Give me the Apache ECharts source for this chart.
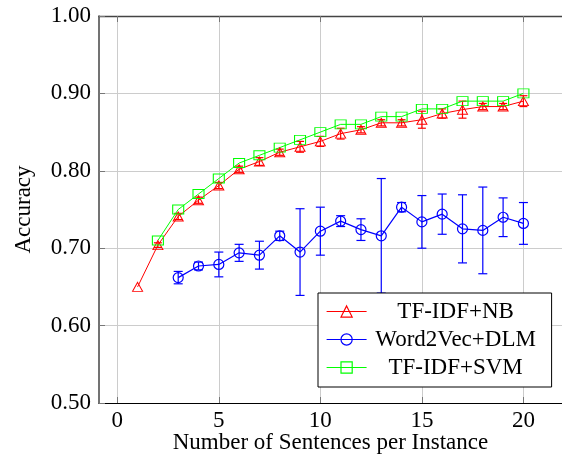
<!DOCTYPE html>
<html>
<head>
<meta charset="utf-8">
<script src="https://cdn.jsdelivr.net/npm/echarts@6/dist/echarts.min.js"></script>
<style>
html,body{margin:0;padding:0;background:#fff;}
#chart{width:562px;height:466px;}
</style>
</head>
<body>
<div id="chart"></div>
<script>
// ---- data ----
const nbX = [1,2,3,4,5,6,7,8,9,10,11,12,13,14,15,16,17,18,19,20];
const nbY = [0.650,0.704,0.741,0.762,0.781,0.802,0.812,0.824,0.831,0.838,0.848,0.853,0.862,0.862,0.866,0.874,0.879,0.883,0.883,0.890];
const nbErr = [0,0.003,0.004,0.004,0.004,0.004,0.005,0.004,0.007,0.0065,0.007,0.004,0.004,0.004,0.011,0.006,0.011,0.004,0.004,0.007];

const w2vX = [3,4,5,6,7,8,9,10,11,12,13,14,15,16,17,18,19,20];
const w2vY = [0.662,0.677,0.679,0.694,0.691,0.716,0.695,0.722,0.735,0.724,0.716,0.753,0.734,0.744,0.725,0.723,0.740,0.732];
const w2vErr = [0.008,0.005,0.016,0.011,0.018,0.006,0.056,0.031,0.007,0.014,0.074,0.006,0.034,0.026,0.044,0.056,0.025,0.027];

const svmX = [2,3,4,5,6,7,8,9,10,11,12,13,14,15,16,17,18,19,20];
const svmY = [0.71,0.75,0.77,0.79,0.81,0.82,0.83,0.84,0.85,0.86,0.86,0.87,0.87,0.88,0.88,0.89,0.89,0.89,0.90];

const xTicks = [0,5,10,15,20];
const seriesNames = ['TF-IDF+NB','Word2Vec+DLM','TF-IDF+SVM'];
const xAxisTitle = 'Number of Sentences per Instance';
const yAxisTitle = 'Accuracy';

const FONT = "'Liberation Serif','Times New Roman',serif";
const RED = '#ff0000', BLUE = '#0000ff', GREEN = '#00ff00';

function pairs(xs, ys){ return xs.map((x,i)=>[x, ys[i]]); }
function errData(xs, ys, es){ return xs.map((x,i)=>[x, ys[i], es[i]]); }

function errSeries(xs, ys, es, color, cap){
  return {
    type:'custom',
    silent:true,
    z:1,
    data: errData(xs, ys, es),
    encode:{x:0,y:1},
    renderItem: function(params, api){
      const x = api.value(0), y = api.value(1), e = api.value(2);
      if (!e) return null;
      const top = api.coord([x, y+e]);
      const bot = api.coord([x, y-e]);
      const st = {stroke: color, lineWidth: 1.2, fill: null};
      return {type:'group', children:[
        {type:'line', shape:{x1:top[0],y1:top[1],x2:bot[0],y2:bot[1]}, style:st},
        {type:'line', shape:{x1:top[0]-cap,y1:top[1],x2:top[0]+cap,y2:top[1]}, style:st},
        {type:'line', shape:{x1:bot[0]-cap,y1:bot[1],x2:bot[0]+cap,y2:bot[1]}, style:st}
      ]};
    }
  };
}

const chart = echarts.init(document.getElementById('chart'), null, {renderer:'canvas'});
chart.setOption({
  animation:false,
  backgroundColor:'#fff',
  textStyle:{fontFamily:FONT},
  grid:{left:99, top:16, width:466, height:387, containLabel:false},
  legend:{
    data:seriesNames,
    orient:'vertical',
    left:318, top:293,
    padding:[7,12,8,8],
    itemWidth:40, itemHeight:14, itemGap:5,
    backgroundColor:'#fff',
    borderColor:'#000', borderWidth:1,
    borderRadius:0,
    lineStyle:{width:1.2},
    itemStyle:{borderWidth:1.2},
    formatter: function(n){ return '{a|'+n+'}'; },
    textStyle:{
      fontFamily:FONT, fontSize:23, color:'#000',
      rich:{a:{fontFamily:FONT, fontSize:23, width:168, align:'center', lineHeight:24, color:'#000'}}
    },
    z:10
  },
  xAxis:[{
    type:'value', min:-0.9, max:21.9,
    name:xAxisTitle, nameLocation:'middle', nameGap:28, nameMoveOverlap:false,
    nameTextStyle:{fontFamily:FONT, fontSize:23, color:'#000'},
    axisLine:{show:true, onZero:false, lineStyle:{color:'#000', width:1.2}},
    axisTick:{show:true, inside:true, length:6, customValues:xTicks, lineStyle:{color:'#777'}},
    axisLabel:{fontFamily:FONT, fontSize:23, color:'#000', margin:6, customValues:xTicks},
    splitLine:{show:true, lineStyle:{color:'#cccccc', width:1}}
  },{
    type:'value', position:'top', min:-0.9, max:21.9,
    axisLine:{show:true, onZero:false, lineStyle:{color:'#444', width:1.3}},
    axisTick:{show:true, inside:true, length:6, customValues:xTicks, lineStyle:{color:'#777'}},
    axisLabel:{show:false, customValues:xTicks},
    splitLine:{show:false}
  }],
  yAxis:{
    type:'value', min:0.5, max:1.0, interval:0.1,
    name:yAxisTitle, nameLocation:'middle', nameGap:64, nameMoveOverlap:false,
    nameTextStyle:{fontFamily:FONT, fontSize:23, color:'#000'},
    axisLine:{show:true, onZero:false, lineStyle:{color:'#444', width:1.5}},
    axisTick:{show:true, inside:true, length:6, lineStyle:{color:'#777'}},
    axisLabel:{fontFamily:FONT, fontSize:23, color:'#000', margin:8, formatter:v=>v.toFixed(2)},
    splitLine:{show:true, lineStyle:{color:'#cccccc', width:1}}
  },
  series:[
    errSeries(nbX, nbY, nbErr, RED, 4),
    {
      name:seriesNames[0], type:'line', data:pairs(nbX, nbY),
      symbol:'triangle', symbolSize:[10,9], z:3,
      lineStyle:{color:RED, width:1},
      itemStyle:{color:'rgba(255,255,255,0)', borderColor:RED, borderWidth:1},
      emphasis:{disabled:true}
    },
    errSeries(w2vX, w2vY, w2vErr, BLUE, 4.5),
    {
      name:seriesNames[1], type:'line', data:pairs(w2vX, w2vY),
      symbol:'circle', symbolSize:10, z:3,
      lineStyle:{color:BLUE, width:1.2},
      itemStyle:{color:'rgba(255,255,255,0)', borderColor:BLUE, borderWidth:1.2},
      emphasis:{disabled:true}
    },
    {
      name:seriesNames[2], type:'line', data:pairs(svmX, svmY),
      symbol:'rect', symbolSize:[11,9], z:3,
      lineStyle:{color:GREEN, width:1},
      itemStyle:{color:'rgba(255,255,255,0)', borderColor:GREEN, borderWidth:1},
      emphasis:{disabled:true}
    }
  ]
});
</script>
</body>
</html>
